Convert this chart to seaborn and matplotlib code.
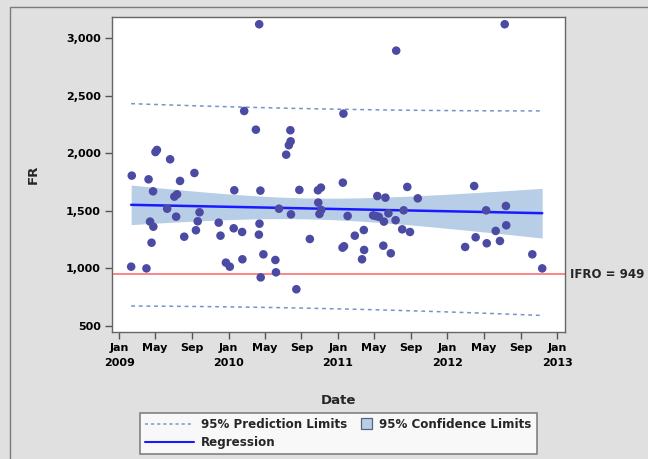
import numpy as np
import pandas as pd
import seaborn as sns
import matplotlib.pyplot as plt
from matplotlib.lines import Line2D
from matplotlib.patches import Patch, Rectangle
from matplotlib.legend_handler import HandlerBase

dates = [
    "2009-02-12", "2009-02-10", "2009-04-09", "2009-04-02", "2009-05-07", "2009-05-02",
    "2009-04-24", "2009-04-14", "2009-04-25", "2009-04-19", "2009-06-20", "2009-07-23",
    "2009-07-04", "2009-07-13", "2009-06-10", "2009-07-10", "2009-08-06", "2009-09-09",
    "2009-09-26", "2009-09-20", "2009-09-14", "2009-11-29", "2009-12-05", "2009-12-23",
    "2010-01-05", "2010-01-20", "2010-01-18", "2010-02-15", "2010-02-16", "2010-02-22",
    "2010-04-02", "2010-04-13", "2010-04-17", "2010-04-14", "2010-04-12", "2010-04-18",
    "2010-04-27", "2010-06-06", "2010-06-08", "2010-06-18", "2010-07-12", "2010-07-21",
    "2010-07-27", "2010-07-26", "2010-07-28", "2010-08-15", "2010-08-25", "2010-09-29",
    "2010-10-27", "2010-10-26", "2010-11-05", "2010-11-06", "2010-10-31",
    "2011-01-19", "2011-01-17", "2011-01-16", "2011-01-21", "2011-02-02", "2011-02-26",
    "2011-03-28", "2011-03-29", "2011-03-22", "2011-05-12", "2011-06-08", "2011-04-28",
    "2011-05-07", "2011-05-17", "2011-06-03", "2011-06-18", "2011-06-01", "2011-06-26",
    "2011-07-14", "2011-07-12", "2011-08-08", "2011-08-03", "2011-08-29", "2011-08-20",
    "2011-09-24", "2012-02-29", "2012-03-30", "2012-04-04", "2012-05-11", "2012-05-09",
    "2012-06-10", "2012-06-24", "2012-07-14", "2012-07-15", "2012-07-10", "2012-10-10",
    "2012-11-12",
]
fr = [
    1805, 1015, 1773, 1000, 2028, 2010,
    1669, 1406, 1362, 1223, 1947, 1759,
    1623, 1643, 1518, 1449, 1275, 1828,
    1487, 1409, 1331, 1397, 1284, 1050,
    1015, 1678, 1348, 1316, 1079, 2366,
    2204, 3119, 1675, 1388, 1293, 922,
    1122, 1073, 966, 1518, 1987, 2069,
    2103, 2199, 1469, 819, 1681, 1255,
    1571, 1678, 1701, 1507, 1472,
    2343, 1744, 1180, 1192, 1455, 1284,
    1333, 1160, 1079, 1628, 1614, 1460,
    1455, 1448, 1406, 1478, 1197, 1131,
    2890, 1418, 1504, 1339, 1316, 1707,
    1608, 1186, 1715, 1270, 1218, 1504,
    1325, 1238, 1542, 1374, 3119, 1122,
    1000,
]
ifro = 949
tick_dates = ["2009-01-01", "2009-05-01", "2009-09-01", "2010-01-01", "2010-05-01",
              "2010-09-01", "2011-01-01", "2011-05-01", "2011-09-01", "2012-01-01",
              "2012-05-01", "2012-09-01", "2013-01-01"]
tick_labels = ["Jan\n2009", "May", "Sep", "Jan\n2010", "May", "Sep", "Jan\n2011",
               "May", "Sep", "Jan\n2012", "May", "Sep", "Jan\n2013"]

df = pd.DataFrame({"Date": pd.to_datetime(dates), "FR": fr})
df = df.sort_values("Date").reset_index(drop=True)

# OLS fit with confidence and prediction limits
t0 = pd.Timestamp("2009-01-01")
x = (df["Date"] - t0).dt.days.to_numpy(float)
y = df["FR"].to_numpy(float)
n = len(x)
slope, intercept = np.polyfit(x, y, 1)
resid = y - (intercept + slope * x)
s = np.sqrt(np.sum(resid ** 2) / (n - 2))
tval = 1.987
xg = np.linspace(x.min(), x.max(), 100)
yg = intercept + slope * xg
sxx = np.sum((x - x.mean()) ** 2)
se_mean = s * np.sqrt(1 / n + (xg - x.mean()) ** 2 / sxx)
se_pred = s * np.sqrt(1 + 1 / n + (xg - x.mean()) ** 2 / sxx)
fit = pd.DataFrame({
    "Date": t0 + pd.to_timedelta(xg, unit="D"),
    "fit": yg,
    "lcl": yg - tval * se_mean, "ucl": yg + tval * se_mean,
    "lpl": yg - tval * se_pred, "upl": yg + tval * se_pred,
})


class SquareHandler(HandlerBase):
    """Small square drawn at the right end of the handle box"""
    def create_artists(self, legend, orig_handle, xdescent, ydescent,
                       width, height, fontsize, trans):
        sz = 8
        r = Rectangle((-xdescent + width - sz, -ydescent + (height - sz) / 2), sz, sz,
                      facecolor=orig_handle.get_facecolor(),
                      edgecolor=orig_handle.get_edgecolor(), lw=0.9, transform=trans)
        return [r]


sns.set_theme(style="white")
plt.rcParams["font.family"] = ["DejaVu Sans"]
plt.rcParams["font.weight"] = "bold"

bg = "#e0e0e0"
fig = plt.figure(figsize=(6.48, 4.59), dpi=100, facecolor=bg)
ax = fig.add_axes([0.1728, 0.2767, 0.6991, 0.6863])
ax.set_facecolor("white")

# outer frame
fig.patches.append(Rectangle((10 / 648, -0.05), 1.0, 1 - 7 / 459 + 0.05,
                             transform=fig.transFigure, fill=False,
                             edgecolor="#7a7a7a", linewidth=1.0))

ci_color = "#b8cde6"
pi_color = "#7294c6"
reg_color = "#1a1aff"
pt_color = "#4b4ba3"

ax.fill_between(fit["Date"], fit["lcl"], fit["ucl"], color=ci_color, lw=0, zorder=1)
sns.lineplot(data=fit, x="Date", y="upl", ax=ax, color=pi_color, lw=1.1,
             linestyle=(0, (2.5, 2.5)), zorder=2)
sns.lineplot(data=fit, x="Date", y="lpl", ax=ax, color=pi_color, lw=1.1,
             linestyle=(0, (2.5, 2.5)), zorder=2)
ax.axhline(ifro, color="#ff7b7b", lw=1.3, zorder=2)
sns.scatterplot(data=df, x="Date", y="FR", ax=ax, color=pt_color, s=38,
                edgecolor="none", zorder=4)
sns.lineplot(data=fit, x="Date", y="fit", ax=ax, color=reg_color, lw=1.8, zorder=3)

ax.set_xlim(pd.Timestamp("2008-12-08"), pd.Timestamp("2013-01-27"))
ax.set_ylim(448, 3182)
ax.set_yticks([500, 1000, 1500, 2000, 2500, 3000])
ax.yaxis.set_major_formatter(plt.FuncFormatter(lambda v, p: f"{int(v):,}"))
ax.set_xticks(pd.to_datetime(tick_dates))
ax.set_xticklabels(tick_labels, linespacing=1.6)

ax.tick_params(axis="both", direction="out", length=5, width=1, color="#555555",
               labelsize=8, labelcolor="black", bottom=True, left=True, pad=3)
for lbl in ax.get_xticklabels() + ax.get_yticklabels():
    lbl.set_fontweight("bold")
for sp in ax.spines.values():
    sp.set_color("#666666")
    sp.set_linewidth(1.0)

ax.set_xlabel("Date", fontsize=9.5, fontweight="bold", labelpad=19)
ax.set_ylabel("FR", fontsize=9.5, fontweight="bold", labelpad=19)

ax.text(1.012, ifro, f"IFRO = {ifro}", transform=ax.get_yaxis_transform(),
        ha="left", va="center", fontsize=8.5, fontweight="bold")

ci_handle = Patch(facecolor=ci_color, edgecolor="#55657d")
handles = [
    Line2D([], [], color=pi_color, lw=1.1, linestyle=(0, (2, 2))),
    Line2D([], [], color=reg_color, lw=1.5),
    ci_handle,
]
labels = ["95% Prediction Limits", "Regression", "95% Confidence Limits"]
leg = fig.legend(handles, labels, loc="center", bbox_to_anchor=(0.522, 0.0556),
                 ncol=2, frameon=True, fancybox=False,
                 handlelength=4.1, handletextpad=0.6, columnspacing=-2.0,
                 labelspacing=0.4, borderpad=0.4, borderaxespad=0,
                 handler_map={Patch: SquareHandler()},
                 prop={"weight": "bold", "size": 8.6})
leg.get_frame().set_edgecolor("#666666")
leg.get_frame().set_linewidth(1.2)

fig.savefig("out.png", dpi=100, facecolor=bg)
